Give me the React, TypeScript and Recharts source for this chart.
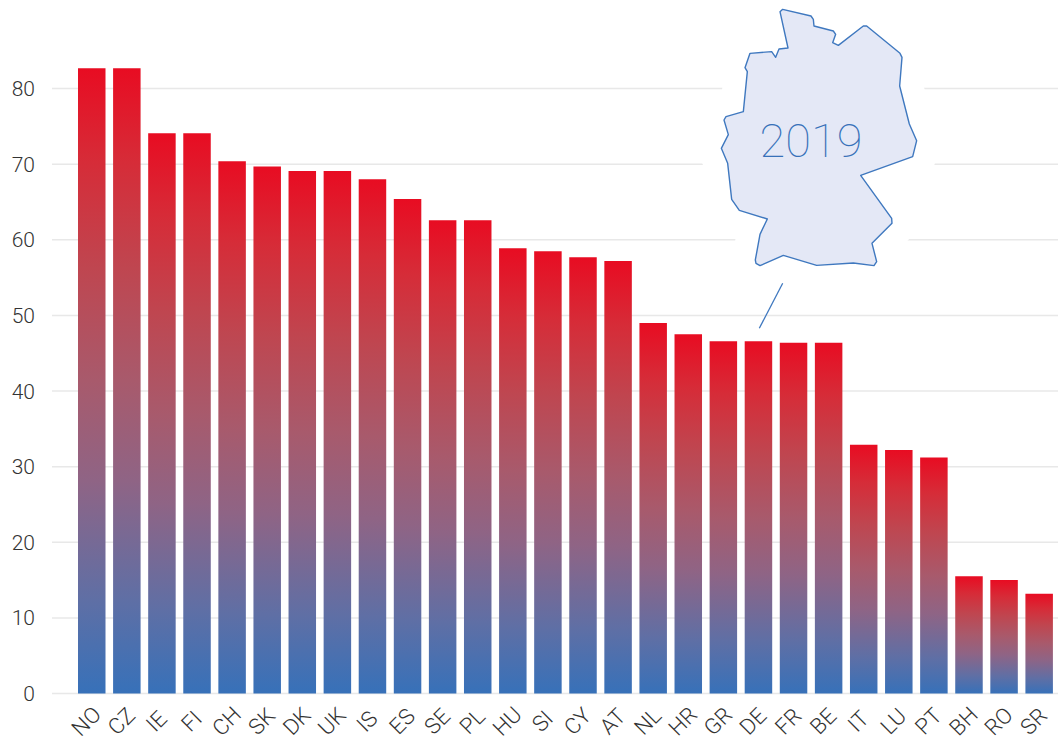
import React from 'react';
import { BarChart, Bar, XAxis, YAxis, CartesianGrid } from 'recharts';

const countries = ['NO', 'CZ', 'IE', 'FI', 'CH', 'SK', 'DK', 'UK', 'IS', 'ES', 'SE', 'PL', 'HU', 'SI', 'CY', 'AT', 'NL', 'HR', 'GR', 'DE', 'FR', 'BE', 'IT', 'LU', 'PT', 'BH', 'RO', 'SR'];
const shares = [82.7, 82.7, 74.1, 74.1, 70.4, 69.7, 69.1, 69.1, 68.0, 65.4, 62.6, 62.6, 58.9, 58.5, 57.7, 57.2, 49.0, 47.5, 46.6, 46.6, 46.4, 46.4, 32.9, 32.2, 31.2, 15.5, 15.0, 13.2];
const yTicks = [0, 10, 20, 30, 40, 50, 60, 70, 80];

const data = countries.map((code, i) => ({ code, value: shares[i] }));

const WIDTH = 1058;
const HEIGHT = 738;
const BLUE = '#3771b9';
const FONT = 'Roboto, sans-serif';

// Gradient isn't linear in the reference, it goes greyish through the middle
const gradientStops: [string, string][] = [
  ['0%', '#e80c22'],
  ['15%', '#d62c38'],
  ['32%', '#bf4650'],
  ['50%', '#a85a6c'],
  ['66%', '#8f6485'],
  ['85%', '#5f6fa5'],
  ['100%', BLUE],
];

// Outline of Germany, in 3x units relative to the map group
const GERMANY = 'M240,35 L248,28 L333,48 L340,58 L342,78 L400,93 L407,103 L398,128 L415,136 L490,78 L500,78 L600,160 L606,172 L599,258 L628,372 L650,422 L638,470 L482,526 L575,655 L576,670 L516,730 L530,785 L522,797 L460,789 L350,796 L250,766 L180,797 L168,790 L166,780 L180,703 L202,657 L118,631 L95,598 L83,490 L64,445 L85,404 L72,360 L78,350 L130,335 L142,215 L135,203 L150,160 L215,155 L227,172 L237,147 L264,144 Z';

const CountryTick = ({ x, y, payload }: any) => (
  <text
    transform={`translate(${x - 4},${y + 21}) rotate(-45)`}
    textAnchor="middle"
    dominantBaseline="middle"
    fontFamily={FONT}
    fontWeight={300}
    fontSize={22}
    fill="#333"
  >
    {payload.value}
  </text>
);

const App: React.FC = () => (
  <div style={{ position: 'absolute', left: 0, top: 0, width: WIDTH, height: HEIGHT }}>
    <BarChart
      width={WIDTH}
      height={HEIGHT}
      data={data}
      margin={{ top: 13, right: 0, bottom: 0, left: 0 }}
    >
      <defs>
        <linearGradient id="barFill" x1="0" y1="0" x2="0" y2="1">
          {gradientStops.map(([offset, color]) => (
            <stop key={offset} offset={offset} stopColor={color} />
          ))}
        </linearGradient>
      </defs>
      <CartesianGrid vertical={false} syncWithTicks stroke="#e8e8e8" strokeWidth={1.5} />
      <XAxis
        dataKey="code"
        interval={0}
        height={44.5}
        padding={{ left: 22, right: 1.5 }}
        axisLine={false}
        tickLine={false}
        tick={<CountryTick />}
      />
      <YAxis
        width={52}
        domain={[0, 90]}
        ticks={yTicks}
        axisLine={false}
        tickLine={false}
        tickSize={0}
        tickMargin={17}
        tick={{ fontFamily: FONT, fontWeight: 300, fontSize: 21, fill: '#333' }}
      />
      <Bar dataKey="value" fill="url(#barFill)" barSize={27.5} isAnimationActive={false} />
    </BarChart>
    <svg width={WIDTH} height={HEIGHT} style={{ position: 'absolute', left: 0, top: 0, pointerEvents: 'none' }}>
      <g transform="translate(700,0) scale(0.33333)">
        <path d={GERMANY} fill="#fff" stroke="#fff" strokeWidth={140} strokeLinejoin="round" />
        <path d={GERMANY} fill="#e4e8f6" stroke="#3f78bf" strokeWidth={4.2} strokeLinejoin="round" />
      </g>
      <line x1={782.7} y1={283.3} x2={759.3} y2={328.3} stroke="#3f78bf" strokeWidth={1.3} />
      <text x={811} y={157} textAnchor="middle" fontFamily={FONT} fontWeight={100} fontSize={47} fill={BLUE}>
        2019
      </text>
    </svg>
  </div>
);

export default App;
